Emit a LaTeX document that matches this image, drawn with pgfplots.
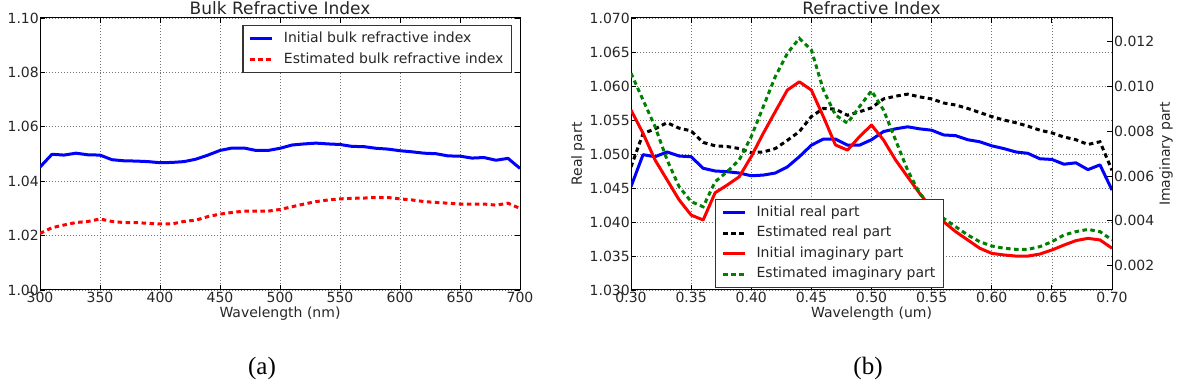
\documentclass[border=0pt]{standalone}
\usepackage{fontspec}
\setmainfont{DejaVu Sans}
\newfontfamily\capfont{Liberation Serif}
\usepackage{pgfplots}
\usepackage{pgfplotstable}
\pgfplotsset{compat=1.18}

\pgfplotstableread{
nm n
300 1.0452
310 1.0499
320 1.0496
330 1.0503
340 1.0497
350 1.0496
360 1.0479
370 1.0475
380 1.0474
390 1.0472
400 1.0468
410 1.0469
420 1.0472
430 1.0481
440 1.0496
450 1.0513
460 1.0522
470 1.0522
480 1.0513
490 1.0513
500 1.0521
510 1.0533
520 1.0537
530 1.0540
540 1.0537
550 1.0535
560 1.0528
570 1.0527
580 1.0521
590 1.0518
600 1.0512
610 1.0508
620 1.0503
630 1.0501
640 1.0493
650 1.0492
660 1.0485
670 1.0487
680 1.0477
690 1.0484
700 1.0447
}\initreal

\pgfplotstableread{
nm n
300 1.0208
310 1.0229
320 1.0239
330 1.0248
340 1.0252
350 1.0261
360 1.0252
370 1.0248
380 1.0248
390 1.0245
400 1.0243
410 1.0243
420 1.0252
430 1.0257
440 1.0270
450 1.0279
460 1.0285
470 1.0290
480 1.0290
490 1.0290
500 1.0296
510 1.0306
520 1.0316
530 1.0325
540 1.0331
550 1.0335
560 1.0337
570 1.0338
580 1.0340
590 1.0340
600 1.0335
610 1.0331
620 1.0325
630 1.0322
640 1.0319
650 1.0316
660 1.0316
670 1.0316
680 1.0312
690 1.0319
700 1.0300
}\estbulk

\pgfplotstableread{
um n
0.30 1.0481
0.31 1.0530
0.32 1.0537
0.33 1.0546
0.34 1.0538
0.35 1.0534
0.36 1.0517
0.37 1.0512
0.38 1.0511
0.39 1.0508
0.40 1.0502
0.41 1.0503
0.42 1.0508
0.43 1.0520
0.44 1.0533
0.45 1.0555
0.46 1.0567
0.47 1.0566
0.48 1.0557
0.49 1.0562
0.50 1.0568
0.51 1.0581
0.52 1.0585
0.53 1.0588
0.54 1.0584
0.55 1.0581
0.56 1.0575
0.57 1.0572
0.58 1.0567
0.59 1.0561
0.60 1.0555
0.61 1.0550
0.62 1.0546
0.63 1.0541
0.64 1.0535
0.65 1.0531
0.66 1.0525
0.67 1.0521
0.68 1.0514
0.69 1.0518
0.70 1.0476
}\estreal

\pgfplotstableread{
um k
0.30 0.00895
0.31 0.00791
0.32 0.00672
0.33 0.00583
0.34 0.00494
0.35 0.00426
0.36 0.00404
0.37 0.00526
0.38 0.00560
0.39 0.00597
0.40 0.00687
0.41 0.00791
0.42 0.00888
0.43 0.00984
0.44 0.01021
0.45 0.00984
0.46 0.00865
0.47 0.00739
0.48 0.00716
0.49 0.00776
0.50 0.00828
0.51 0.00761
0.52 0.00672
0.53 0.00597
0.54 0.00523
0.55 0.00456
0.56 0.00396
0.57 0.00352
0.58 0.00315
0.59 0.00278
0.60 0.00255
0.61 0.00248
0.62 0.00243
0.63 0.00243
0.64 0.00252
0.65 0.00270
0.66 0.00292
0.67 0.00312
0.68 0.00322
0.69 0.00315
0.70 0.00278
}\initimag

\pgfplotstableread{
um k
0.30 0.01059
0.31 0.00940
0.32 0.00821
0.33 0.00672
0.34 0.00553
0.35 0.00486
0.36 0.00463
0.37 0.00575
0.38 0.00620
0.39 0.00672
0.40 0.00776
0.41 0.00910
0.42 0.01044
0.43 0.01148
0.44 0.01215
0.45 0.01163
0.46 0.00984
0.47 0.00873
0.48 0.00836
0.49 0.00910
0.50 0.00981
0.51 0.00895
0.52 0.00761
0.53 0.00627
0.54 0.00523
0.55 0.00463
0.56 0.00411
0.57 0.00374
0.58 0.00337
0.59 0.00307
0.60 0.00288
0.61 0.00278
0.62 0.00273
0.63 0.00273
0.64 0.00285
0.65 0.00307
0.66 0.00337
0.67 0.00352
0.68 0.00362
0.69 0.00352
0.70 0.00315
}\estimag

\newcommand\tfont{\fontsize{14bp}{16bp}\selectfont}
\pgfplotsset{
  base/.style={
    scale only axis, width=481bp, height=272bp, anchor=south west,
    tick align=inside, major tick length=5bp,
    tick style={black, line width=0.8bp},
    axis line style={black, line width=1bp},
    grid style={black!55, line width=0.7bp, dash pattern=on 1bp off 2bp},
    tick label style={font=\tfont, text=black!85},
    /pgf/number format/assume math mode=true,
    scaled ticks=false,
    xticklabel style={anchor=base, inner sep=0pt, yshift=-13bp},
    yticklabel style={anchor=east, inner sep=0pt, xshift=-1bp},
    every axis title/.style={at={(axis description cs:0.5,1)}, anchor=base, yshift=3bp, font=\fontsize{17bp}{20bp}\selectfont, text=black!85},
    every axis x label/.style={at={(axis description cs:0.5,0)}, anchor=center, yshift=-24bp, font=\tfont, text=black!85},
    legend cell align=left,
    legend image code/.code={\draw[##1] (0bp,0bp) -- (22bp,0bp); \path (-2bp,0bp) (28bp,0bp);},
    legend style={draw=black!80, line width=1.2bp, font=\tfont, text=black!85,
      nodes={inner xsep=4bp, inner ysep=1bp, text height=10.5bp, text depth=3.5bp},
      inner xsep=4bp, inner ysep=5bp},
  },
  blueline/.style={blue, line width=3bp, line join=round},
  redline/.style={red, line width=3bp, line join=round},
  reddot/.style={red, line width=3bp, dash pattern=on 4.5bp off 3.5bp},
  blackdot/.style={black, line width=3bp, dash pattern=on 4.5bp off 3.5bp},
  greendot/.style={black!50!green, line width=3bp, dash pattern=on 4.5bp off 3.5bp},
}

\begin{document}
\begin{tikzpicture}
\useasboundingbox (0,0) rectangle (1181bp,384bp);

% ---------- (a) ----------
\begin{axis}[base, at={(40bp,94bp)}, width=480bp,
  xmin=300, xmax=700, ymin=1.00, ymax=1.10,
  xtick={300,350,...,700},
  ytick={1.00,1.02,1.04,1.06,1.08,1.10},
  yticklabel style={/pgf/number format/.cd, fixed, fixed zerofill, precision=2},
  grid=major,
  title={Bulk Refractive Index},
  xlabel={Wavelength (nm)},
  legend style={at={(axis description cs:1,1)}, anchor=north east, xshift=-8bp, yshift=-7bp, row sep=5bp},
]
\addplot[blueline] table[x=nm, y=n] {\initreal};
\addlegendentry{Initial bulk refractive index}
\addplot[reddot] table[x=nm, y=n] {\estbulk};
\addlegendentry{Estimated bulk refractive index}
\end{axis}

% ---------- (b) real ----------
\begin{axis}[base, at={(631bp,94bp)},
  xmin=0.3, xmax=0.7, ymin=1.03, ymax=1.07,
  xtick={0.30,0.35,0.40,0.45,0.50,0.55,0.60,0.65,0.70},
  ytick={1.030,1.035,1.040,1.045,1.050,1.055,1.060,1.065,1.070},
  xticklabel style={/pgf/number format/.cd, fixed, fixed zerofill, precision=2},
  yticklabel style={/pgf/number format/.cd, fixed, fixed zerofill, precision=3},
  ytick pos=left,
  grid=major,
  title={Refractive Index},
  xlabel={Wavelength (um)},
  ylabel={Real part},
  every axis y label/.style={at={(axis description cs:0,0.5)}, xshift=-53bp, yshift=0bp, rotate=90, anchor=center, font=\tfont, text=black!85},
]
\addplot[blueline] table[x expr=\thisrow{nm}/1000, y=n] {\initreal};
\addplot[blackdot] table[x=um, y=n] {\estreal};
\end{axis}

% ---------- (b) imaginary ----------
\begin{axis}[base, at={(631bp,94bp)},
  xmin=0.3, xmax=0.7, ymin=0.000915, ymax=0.013058,
  axis x line=none, axis y line*=right,
  tick align=inside,
  ytick={0.002,0.004,0.006,0.008,0.010,0.012},
  yticklabel style={anchor=west, inner sep=0pt, xshift=3bp, /pgf/number format/.cd, fixed, fixed zerofill, precision=3},
  ylabel={Imaginary part},
  every axis y label/.style={at={(axis description cs:1,0.5)}, xshift=54bp, rotate=90, anchor=center, font=\tfont, text=black!85},
  legend style={at={(axis description cs:0,0)}, anchor=south west, xshift=84bp, yshift=2bp, row sep=4.5bp},
]
\addlegendimage{blueline}
\addlegendentry{Initial real part}
\addlegendimage{blackdot}
\addlegendentry{Estimated real part}
\addplot[redline] table[x=um, y=k] {\initimag};
\addlegendentry{Initial imaginary part}
\addplot[greendot] table[x=um, y=k] {\estimag};
\addlegendentry{Estimated imaginary part}
\end{axis}

\node[font=\capfont\fontsize{25bp}{27bp}\selectfont] at (262bp,16bp) {(a)};
\node[font=\capfont\fontsize{25bp}{27bp}\selectfont] at (868bp,16bp) {(b)};
\end{tikzpicture}
\end{document}
